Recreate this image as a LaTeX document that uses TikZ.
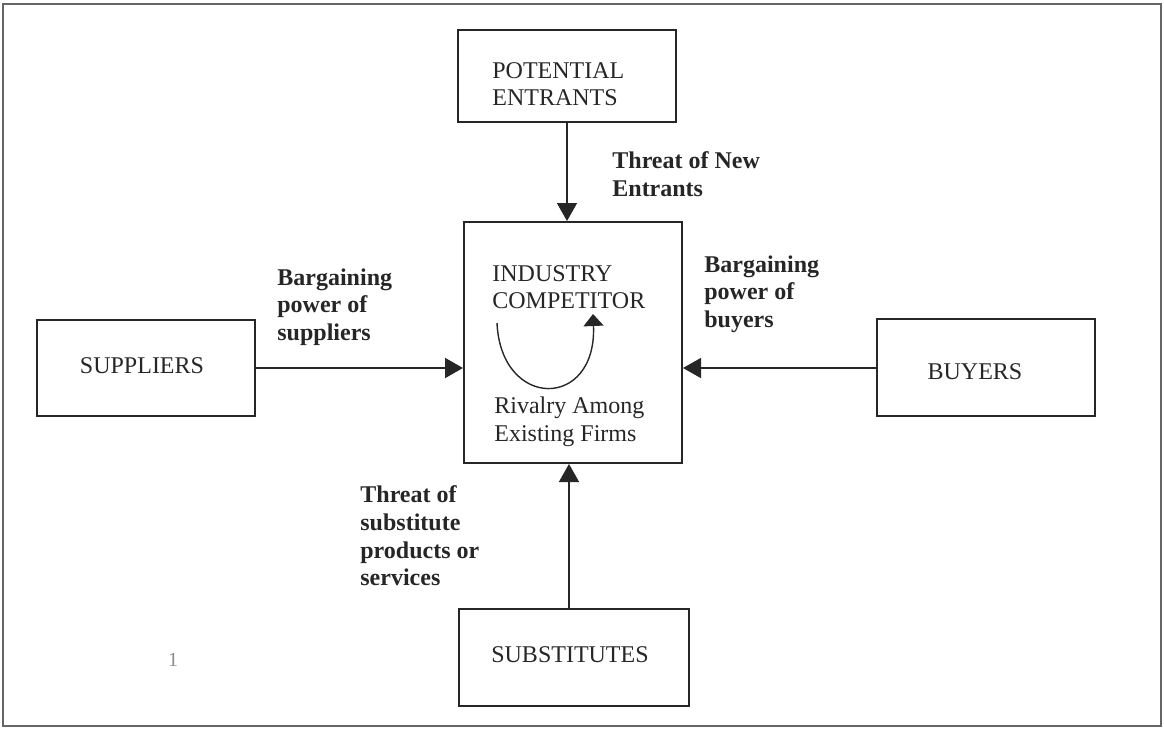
\documentclass[tikz,border=0pt]{standalone}
\usepackage{fontspec}
\setmainfont{Liberation Serif}
\usetikzlibrary{arrows.meta}
\tikzset{
  box/.style={draw=black!85, line width=1pt, rectangle, inner sep=0pt},
  boxtext/.style={inner sep=0pt, align=left, font=\fontsize{12}{13.8}\selectfont, text=black!85},
  lbl/.style={inner sep=0pt, align=left, anchor=west, font=\fontsize{12}{13.8}\selectfont\bfseries, text=black!85},
  arr/.style={draw=black!85, line width=0.8pt, -{Triangle[length=9pt,width=10pt]}},
  curvarr/.style={draw=black!85, line width=0.7pt, -{Triangle[length=6pt,width=10pt]}}
}
\begin{document}
\begin{tikzpicture}[x=0.5pt,y=-0.5pt]
\useasboundingbox (0,0) rectangle (1164,729);
\draw[draw=black!60, line width=1pt] (3,4) rectangle (1161,726);
% boxes
\node[box, minimum width=109pt, minimum height=46pt] (ent) at (567,76) {};
\node[box, minimum width=109pt, minimum height=120.5pt] (ind) at (573,342.5) {};
\node[box, minimum width=109pt, minimum height=48pt] (sup) at (146,368) {};
\node[box, minimum width=109pt, minimum height=48.5pt] (buy) at (986,367.5) {};
\node[box, minimum width=115pt, minimum height=48.5pt] (subs) at (574,657.5) {};
% box texts
\node[boxtext, anchor=west] (entt) at (492,84) {POTENTIAL\\ENTRANTS};
\node[boxtext, anchor=west] (indt) at (492,287) {INDUSTRY\\COMPETITOR};
\node[boxtext, anchor=west] (rivt) at (494,422) {Rivalry Among\\Existing Firms};
\node[boxtext] (supt) at (142,366) {SUPPLIERS};
\node[boxtext] (buyt) at (975,372) {BUYERS};
\node[boxtext] (subt) at (570,655) {SUBSTITUTES};
% curved rivalry arrow
\coordinate (c1) at (497,323);
\coordinate (c2) at (593,314);
\draw[curvarr] (c1) .. controls (501,410) and (597,410) .. (c2);
% connectors
\draw[arr] (ent.south) -- (ent.south |- ind.north);
\draw[arr] (sup.east) -- (sup.east -| ind.west);
\draw[arr] (buy.west |- sup.east) -- (sup.east -| ind.east);
\draw[arr] ([xshift=-2.5pt]subs.north) -- ([xshift=-2.5pt]subs.north |- ind.south);
% labels
\node[lbl] (l1) at (612,174) {Threat of New\\Entrants};
\node[lbl] (l2) at (277,307) {Bargaining\\power of\\suppliers};
\node[lbl] (l3) at (704,294) {Bargaining\\power of\\buyers};
\node[lbl] (l4) at (360,536) {Threat of\\substitute\\products or\\services};
\node[inner sep=0pt, text=black!45, font=\fontsize{10}{11}\selectfont] (one) at (173,660) {1};
\end{tikzpicture}
\end{document}
